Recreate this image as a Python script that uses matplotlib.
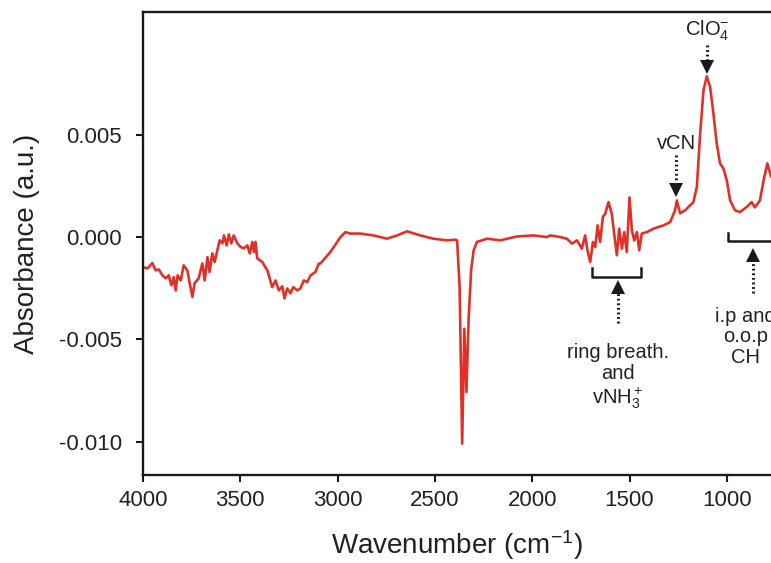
import numpy as np
import matplotlib
matplotlib.use('Agg')
import matplotlib.pyplot as plt

plt.rcParams['font.family'] = ['Liberation Sans', 'DejaVu Sans']
plt.rcParams['mathtext.fontset'] = 'custom'
plt.rcParams['mathtext.rm'] = 'Liberation Sans'
plt.rcParams['mathtext.it'] = 'Liberation Sans:italic'

# ===========================
# Spectrum (absorbance in units of 1e-3)
# ===========================
wavenumber = [4000, 3977, 3952, 3935, 3919, 3900, 3883, 3868, 3854, 3842,
              3832, 3822, 3806, 3791, 3772, 3760, 3746, 3735, 3714, 3695,
              3683, 3669, 3658, 3644, 3632, 3618, 3606, 3592, 3584, 3570,
              3559, 3546, 3534, 3515, 3498, 3482, 3464, 3451, 3438, 3430,
              3422, 3413, 3387, 3361, 3336, 3319, 3302, 3284, 3273, 3259,
              3242, 3228, 3207, 3191, 3174, 3156, 3139, 3114, 3097, 3088,
              3037, 2985, 2960, 2934, 2883, 2816, 2746, 2694, 2643, 2575,
              2508, 2438, 2395, 2386, 2373, 2360, 2349, 2338, 2327, 2314,
              2301, 2284, 2232, 2164, 2078, 1993, 1924, 1907, 1856, 1822,
              1796, 1770, 1745, 1728, 1716, 1702, 1688, 1676, 1664, 1651,
              1637, 1625, 1608, 1591, 1579, 1565, 1553, 1539, 1527, 1514,
              1500, 1488, 1476, 1462, 1450, 1437, 1411, 1377, 1326, 1291,
              1266, 1257, 1240, 1214, 1189, 1172, 1154, 1137, 1120, 1103,
              1086, 1069, 1052, 1035, 1018, 1000, 983, 958, 932, 898,
              872, 856, 830, 809, 792, 773]
absorbance_milli = [-1.47, -1.53, -1.27, -1.63, -1.58, -1.87, -2.02, -1.87, -2.36, -1.96,
                    -2.61, -1.87, -2.12, -1.38, -1.63, -2.26, -2.93, -2.26, -2.02, -1.29,
                    -2.12, -0.98, -1.71, -0.80, -1.22, -0.65, -0.16, -0.31, 0.08, -0.41,
                    0.13, -0.31, 0.08, -0.31, -0.49, -0.55, -0.41, -0.80, -0.24, -0.73,
                    -0.24, -1.04, -1.22, -1.63, -2.45, -2.12, -2.61, -2.41, -3.00, -2.51,
                    -2.75, -2.45, -2.61, -2.51, -2.12, -2.20, -1.87, -1.71, -1.30, -1.29,
                    -0.73, 0.00, 0.24, 0.17, 0.17, 0.08, -0.08, 0.08, 0.28, 0.08,
                    -0.08, -0.16, -0.13, -0.16, -2.45, -10.10, -4.48, -7.58, -4.07, -1.63,
                    -0.65, -0.24, -0.08, -0.16, 0.03, 0.08, 0.00, 0.08, 0.00, -0.08,
                    -0.32, -0.16, -0.57, 0.08, -0.65, -1.22, -0.24, -0.49, 0.57, -0.24,
                    0.98, 1.14, 1.71, 1.14, 0.17, -0.89, 0.41, -0.57, 0.24, -0.73,
                    1.94, 0.33, -0.16, 0.24, -0.65, 0.17, 0.24, 0.41, 0.57, 0.73,
                    1.31, 1.79, 1.16, 1.31, 1.55, 1.70, 2.45, 5.06, 7.17, 7.86,
                    7.34, 6.05, 4.58, 3.60, 3.36, 2.77, 1.79, 1.31, 1.22, 1.47,
                    1.71, 1.45, 1.79, 2.87, 3.60, 2.97]

x_ticks = [4000, 3500, 3000, 2500, 2000, 1500, 1000]
y_ticks = [-0.010, -0.005, 0.000, 0.005]
y_tick_labels = ['-0.010', '-0.005', '0.000', '0.005']

RED = '#e03129'
INK = '#1a1a1a'


def down_arrow(ax, x, y_top, y_tip, head=0.00035):
    # dotted shaft with a solid triangular head
    ax.plot([x, x], [y_top, y_tip + head], color=INK, lw=2.2, ls=(0, (0.6, 0.9)),
            dash_capstyle='butt', clip_on=False)
    ax.plot([x], [y_tip + head * 0.45], marker='v', ms=10, color=INK, mew=0, clip_on=False)


def up_arrow(ax, x, y_bottom, y_tip, head=0.00035):
    ax.plot([x, x], [y_bottom, y_tip - head], color=INK, lw=2.2, ls=(0, (0.6, 0.9)),
            dash_capstyle='butt', clip_on=False)
    ax.plot([x], [y_tip - head * 0.45], marker='^', ms=10, color=INK, mew=0, clip_on=False)


fig = plt.figure(figsize=(7.71, 5.63), dpi=100)
ax = fig.add_axes([143 / 771, 88 / 563, 628 / 771, 463 / 563])

ax.plot(wavenumber, np.array(absorbance_milli) * 1e-3, color=RED, lw=1.9, solid_joinstyle='round')

ax.set_xlim(4000, 773)
ax.set_ylim(-0.01163, 0.0110)
ax.set_xticks(x_ticks)
ax.set_xticklabels([str(t) for t in x_ticks])
ax.set_yticks(y_ticks)
ax.set_yticklabels(y_tick_labels)

for side in ('left', 'bottom', 'top'):
    ax.spines[side].set_linewidth(1.7)
    ax.spines[side].set_color(INK)
ax.spines['right'].set_visible(False)
ax.tick_params(axis='both', direction='out', length=5, width=1.5, color=INK,
               labelsize=16, labelcolor='#222222')
ax.tick_params(axis='x', pad=6)
ax.tick_params(axis='y', pad=10)

ax.set_xlabel('Wavenumber (cm$^{-1}$)', fontsize=20, color='#222222', labelpad=12)
ax.set_ylabel('Absorbance (a.u.)', fontsize=20, color='#222222', labelpad=14)

# --- annotations ---
ax.text(1103, 0.0101, 'ClO$_4^{-}$', ha='center', va='center', fontsize=14.5, color='#222222')
down_arrow(ax, 1103, 0.00937, 0.00815)

ax.text(1260, 0.00455, 'vCN', ha='center', va='center', fontsize=14.5, color='#222222')
down_arrow(ax, 1260, 0.0040, 0.00213)

# ring breathing bracket
ax.plot([1693, 1693, 1442, 1442], [-0.00153, -0.00196, -0.00196, -0.00153],
        color=INK, lw=1.8, clip_on=False)
up_arrow(ax, 1560, -0.00422, -0.00226)
ax.text(1560, -0.0052, 'ring breath.\nand\nvNH$_3^+$', ha='center', va='top',
        fontsize=14.5, color='#222222', linespacing=1.12)

# CH bending bracket
ax.plot([992, 992, 600], [0.00018, -0.0002, -0.0002], color=INK, lw=1.8, clip_on=False)
up_arrow(ax, 867, -0.00275, -0.00073)
ax.text(905, -0.0034, 'i.p and\no.o.p\nCH', ha='center', va='top',
        fontsize=14.5, color='#222222', linespacing=1.12)

fig.savefig('out.png', dpi=100)
